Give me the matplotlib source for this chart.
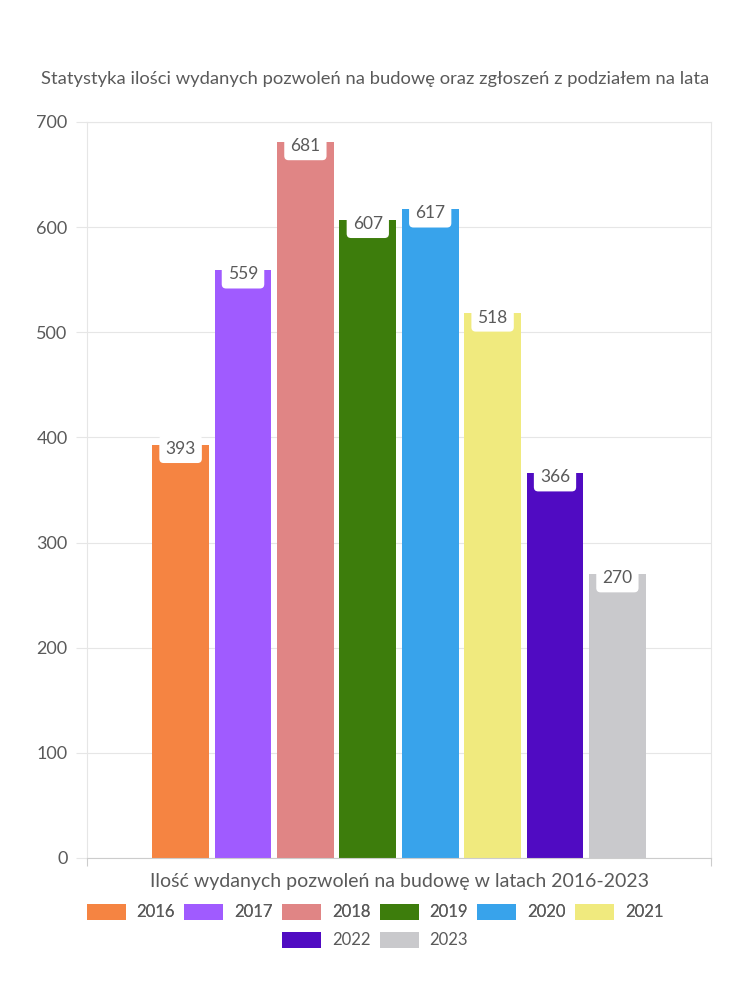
import matplotlib.pyplot as plt
import numpy as np

plt.rcParams["font.family"] = ["Lato", "DejaVu Sans"]

years = ["2016", "2017", "2018", "2019", "2020", "2021", "2022", "2023"]
permits = [393, 559, 681, 607, 617, 518, 366, 270]
colors = ["#f58442", "#a05bff", "#e08585", "#3d7d0c", "#38a3eb",
          "#f0ea7e", "#500bc2", "#c9c9cc"]

TEXT = "#5a5a5a"
GRID = "#e6e6e6"

fig = plt.figure(figsize=(7.5, 10), dpi=100)
ax = fig.add_axes((87 / 750, 142 / 1000, 624 / 750, 736 / 1000))

slot = 0.1
width = 0.0913
offsets = (np.arange(len(years)) - (len(years) - 1) / 2) * slot
for off, year, val, col in zip(offsets, years, permits, colors):
    ax.bar(off, val, width=width, color=col, label=year, zorder=2)
    ax.annotate(str(val), (off, val), xytext=(0, -3), textcoords="offset points",
                ha="center", va="center", fontsize=12.5, color=TEXT, zorder=3,
                bbox=dict(boxstyle="round,pad=0.35,rounding_size=0.25",
                          fc="white", ec="none"))

ax.set_xlim(-0.5, 0.5)
ax.set_ylim(0, 700)
ax.set_yticks(np.arange(0, 701, 100))
ax.set_xticks([-0.5, 0.5])
ax.set_xticklabels(["", ""])
ax.grid(axis="y", color=GRID, linewidth=0.8, zorder=0)
for side in ["top", "right", "left", "bottom"]:
    ax.spines[side].set_color(GRID)
ax.spines["bottom"].set_color("#cccccc")
ax.tick_params(axis="y", colors=GRID, labelcolor=TEXT, labelsize=13, length=8, pad=6)
ax.tick_params(axis="x", colors="#cccccc", length=6)

ax.set_xlabel("Ilość wydanych pozwoleń na budowę w latach 2016-2023",
              fontsize=14, color=TEXT, labelpad=1)

fig.text(0.5, 0.921, "Statystyka ilości wydanych pozwoleń na budowę oraz zgłoszeń z podziałem na lata",
         ha="center", va="center", fontsize=13.2, color=TEXT)

handles, labels = ax.get_legend_handles_labels()
legend_kw = dict(loc="center", frameon=False, fontsize=12, handlelength=2.35,
                 handleheight=1.15, handletextpad=0.65, columnspacing=0.55,
                 labelcolor=TEXT)
leg1 = fig.legend(handles[:6], labels[:6], bbox_to_anchor=(0.5, 0.088), ncol=6, **legend_kw)
leg2 = fig.legend(handles[6:], labels[6:], bbox_to_anchor=(0.5, 0.06), ncol=2, **legend_kw)
fig.add_artist(leg1)

fig.savefig("out.png", dpi=100, facecolor="white")
